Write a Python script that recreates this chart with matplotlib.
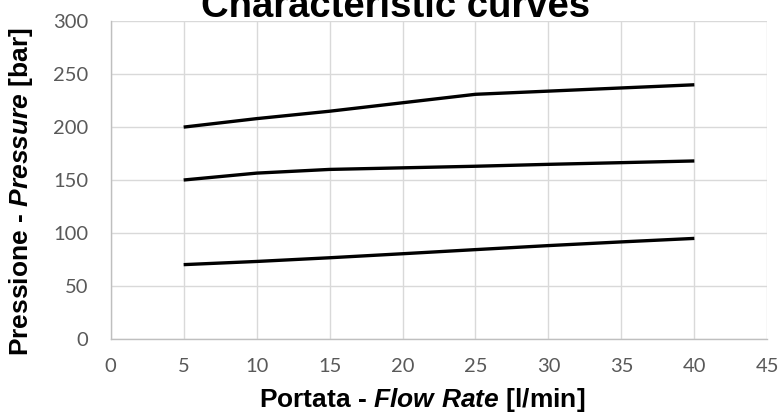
import numpy as np
import matplotlib
matplotlib.use("Agg")
import matplotlib.pyplot as plt

# flow rate [l/min]
portata = [5, 10, 15, 20, 25, 30, 35, 40]

# pressure curves [bar]
curva_alta = [200, 208, 215, 223, 231, 234, 237, 240]
curva_media = [150, 156.5, 160, 161.5, 163, 164.8, 166.4, 168]
curva_bassa = [70, 73, 76.5, 80.3, 84.2, 88, 91.5, 94.8]

x_ticks = list(range(0, 50, 5))
y_ticks = list(range(0, 350, 50))

plt.rcParams['mathtext.fontset'] = 'custom'
plt.rcParams['mathtext.it'] = 'Liberation Sans:italic:bold'
plt.rcParams['mathtext.rm'] = 'Liberation Sans:bold'
plt.rcParams['mathtext.bf'] = 'Liberation Sans:bold'

W, H = 781, 419
fig = plt.figure(figsize=(W / 100, H / 100), dpi=100)
ax = fig.add_axes([110.7 / W, 1 - 338.7 / H, (767.3 - 110.7) / W, (338.7 - 21.3) / H])

for curva in (curva_alta, curva_media, curva_bassa):
    ax.plot(portata, curva, color='black', lw=2.4, solid_capstyle='butt', zorder=3)

ax.set_xlim(0, 45)
ax.set_ylim(0, 300)
ax.set_xticks(x_ticks)
ax.set_yticks(y_ticks)
ax.grid(True, color='#d9d9d9', lw=1.0, zorder=0)
ax.set_axisbelow(True)
for s in ('top', 'right'):
    ax.spines[s].set_visible(False)
for s in ('left', 'bottom'):
    ax.spines[s].set_color('#bfbfbf')
    ax.spines[s].set_linewidth(1.0)

ax.tick_params(axis='both', length=0, labelcolor='#595959', labelsize=14.5)
ax.tick_params(axis='y', pad=16)
ax.tick_params(axis='x', pad=14)
for lab in ax.get_xticklabels() + ax.get_yticklabels():
    lab.set_family('Lato')

# title (cut off at the top, like the original)
fig.text(396 / W, 1 - 17 / H, 'Characteristic curves', ha='center', va='baseline',
         fontsize=27.5, fontweight='bold', family='Liberation Sans')

fig.text(422.5 / W, 1 - 406.7 / H, r'Portata - $Flow\ Rate$ [l/min]',
         ha='center', va='baseline', fontsize=19, fontweight='bold',
         family='Liberation Sans')
fig.text(28 / W, 1 - 191.5 / H, r'Pressione - $Pressure$ [bar]',
         ha='center', va='baseline', rotation=90, rotation_mode='anchor',
         fontsize=19, fontweight='bold', family='Liberation Sans')

fig.savefig('out.png', dpi=100)
